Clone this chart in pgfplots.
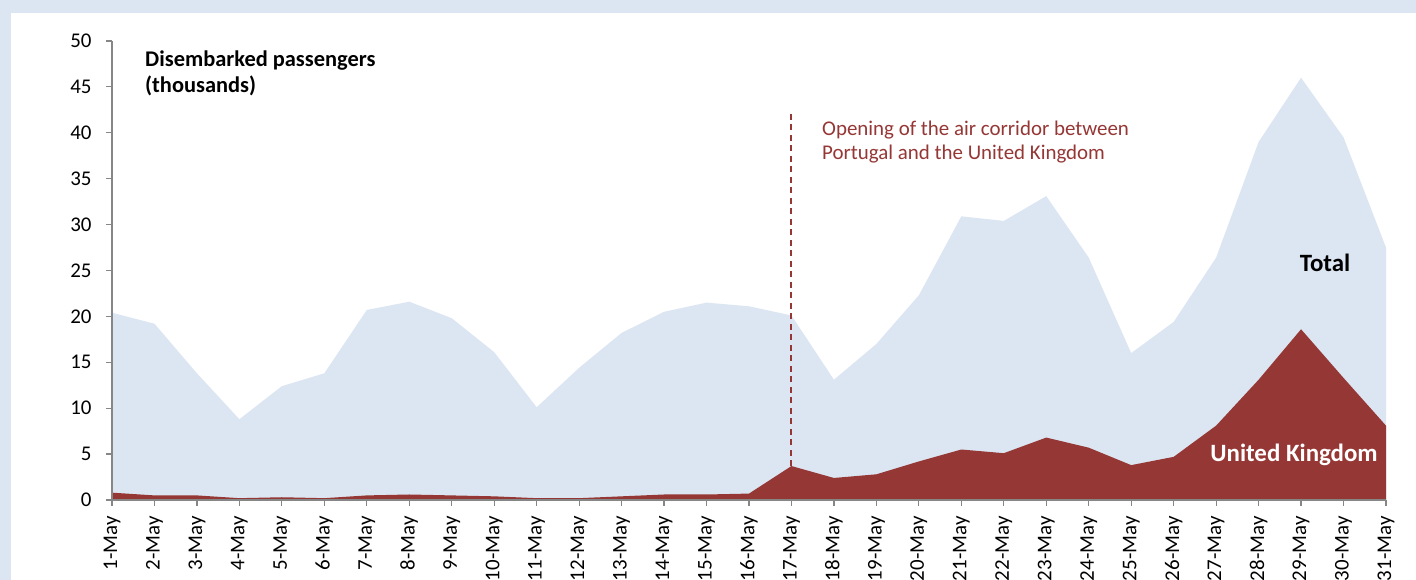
\documentclass[border=0pt]{standalone}
\usepackage{pgfplots}
\pgfplotsset{compat=1.18}
\usepackage{fontspec}
\setmainfont{Carlito}
\definecolor{totalfill}{HTML}{DCE6F2}
\definecolor{ukfill}{HTML}{953735}
\definecolor{axisgray}{HTML}{868686}
\begin{document}
\begin{tikzpicture}
\fill[totalfill] (0,0) rectangle (1416bp,580bp);
\fill[white] (11bp,0) rectangle (1416bp,567bp);
\useasboundingbox (0,0) rectangle (1416bp,580bp);
\begin{axis}[
  at={(112bp,80bp)}, anchor=south west,
  scale only axis, width=1274bp, height=459bp,
  xmin=1, xmax=31, ymin=0, ymax=50,
  axis x line=bottom, axis y line=left,
  axis line style={-, axisgray, line width=1.5bp},
  xtick={1,...,31},
  xticklabels={1-May,2-May,3-May,4-May,5-May,6-May,7-May,8-May,9-May,10-May,
    11-May,12-May,13-May,14-May,15-May,16-May,17-May,18-May,19-May,20-May,
    21-May,22-May,23-May,24-May,25-May,26-May,27-May,28-May,29-May,30-May,31-May},
  ytick={0,5,...,50},
  tick style={axisgray, line width=1.2bp},
  tick align=outside, major tick length=6bp,
  xticklabel style={rotate=90, anchor=east, xshift=-7bp},
  yticklabel style={xshift=-11bp},
  tick label style={font=\fontsize{21}{25}\selectfont, black},
  /pgf/number format/assume math mode=true,
  axis on top,
]
% Total
\addplot[fill=totalfill, draw=none] coordinates {
  (1,20.4) (2,19.2) (3,13.8) (4,8.8) (5,12.4) (6,13.8) (7,20.7) (8,21.6)
  (9,19.8) (10,16.1) (11,10.1) (12,14.4) (13,18.2) (14,20.5) (15,21.5)
  (16,21.1) (17,20.1) (18,13.1) (19,17.0) (20,22.3) (21,30.9) (22,30.4)
  (23,33.1) (24,26.4) (25,16.0) (26,19.4) (27,26.4) (28,39.0) (29,46.0)
  (30,39.5) (31,27.5)} \closedcycle;
% United Kingdom
\addplot[fill=ukfill, draw=none] coordinates {
  (1,0.8) (2,0.5) (3,0.5) (4,0.2) (5,0.3) (6,0.2) (7,0.5) (8,0.6)
  (9,0.5) (10,0.4) (11,0.2) (12,0.2) (13,0.4) (14,0.6) (15,0.6)
  (16,0.7) (17,3.7) (18,2.4) (19,2.8) (20,4.2) (21,5.5) (22,5.1)
  (23,6.8) (24,5.7) (25,3.8) (26,4.7) (27,8.1) (28,13.1) (29,18.6)
  (30,13.3) (31,8.1)} \closedcycle;
\draw[ukfill, line width=2bp, dash pattern=on 6bp off 4.5bp] (axis cs:17,3.7) -- (axis cs:17,42.2);
\end{axis}
\node[anchor=base west, align=left, font=\fontsize{22.5}{27}\selectfont\bfseries, inner sep=0] at (145bp,487bp) {Disembarked passengers\\(thousands)};
\node[anchor=base west, align=left, font=\fontsize{21}{25}\selectfont, text=ukfill, inner sep=0] at (822bp,420bp) {Opening of the air corridor between\\Portugal and the United Kingdom};
\node[anchor=base, font=\fontsize{25}{30}\selectfont\bfseries, inner sep=0] at (1325bp,308bp) {Total};
\node[anchor=base, font=\fontsize{25}{30}\selectfont\bfseries, text=white, inner sep=0] at (1294bp,118bp) {United Kingdom};
\end{tikzpicture}
\end{document}
